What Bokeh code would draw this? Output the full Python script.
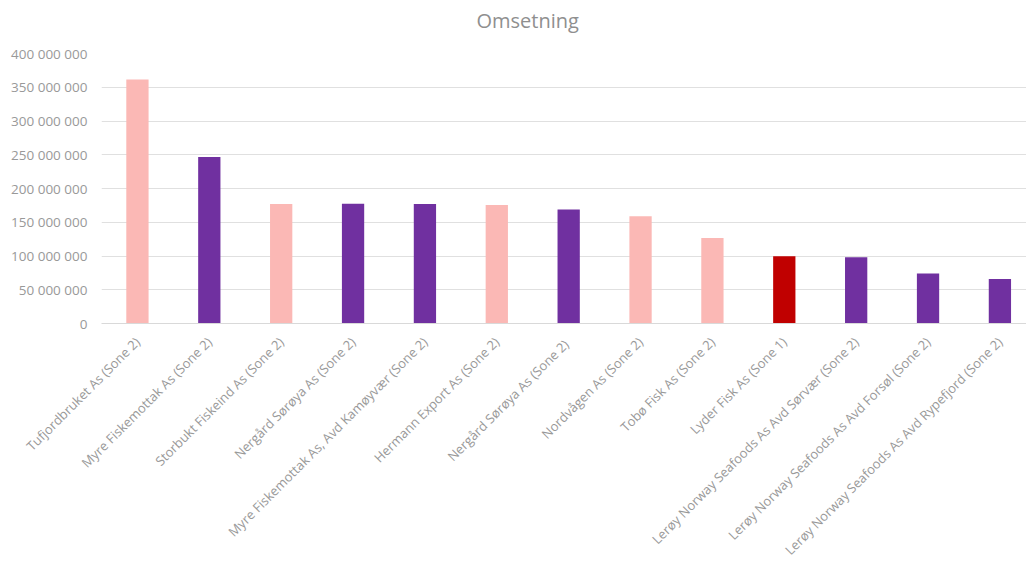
from bokeh.plotting import figure
from bokeh.models import Range1d, FixedTicker, CustomJSTickFormatter, ColumnDataSource, Title
from bokeh.transform import factor_cmap
from bokeh.embed import file_html
from bokeh.resources import INLINE
import math

# --- data ---
title_text = "Omsetning"
companies = [
    "Tufjordbruket As (Sone 2)",
    "Myre Fiskemottak As (Sone 2)",
    "Storbukt Fiskeind As (Sone 2)",
    "Nergård Sørøya As (Sone 2)",
    "Myre Fiskemottak As, Avd Kamøyvær (Sone 2)",
    "Hermann Export As (Sone 2)",
    "Nergård Sørøya As (Sone 2) ",
    "Nordvågen As (Sone 2)",
    "Tobø Fisk As (Sone 2)",
    "Lyder Fisk As (Sone 1)",
    "Lerøy Norway Seafoods As Avd Sørvær (Sone 2)",
    "Lerøy Norway Seafoods As Avd Forsøl (Sone 2)",
    "Lerøy Norway Seafoods As Avd Rypefjord (Sone 2)",
]
omsetning = [361_500_000, 246_800_000, 177_200_000, 177_300_000, 177_200_000,
             175_700_000, 168_900_000, 159_000_000, 126_800_000, 99_700_000,
             98_200_000, 74_000_000, 66_000_000]
gruppe = ["A", "B", "A", "B", "B", "A", "B", "A", "A", "C", "B", "B", "B"]
y_ticks = [0, 50_000_000, 100_000_000, 150_000_000, 200_000_000,
           250_000_000, 300_000_000, 350_000_000, 400_000_000]

group_names = ["A", "B", "C"]
group_colors = ["#FBB8B5", "#7030A0", "#C00000"]

xpos = [i + 0.5 for i in range(len(companies))]
source = ColumnDataSource(dict(x=xpos, top=omsetning, name=companies, grp=gruppe))

p = figure(frame_width=925, frame_height=270, output_backend="svg", toolbar_location=None,
           x_range=Range1d(0, 12.87), y_range=Range1d(0, 400_000_000),
           min_border_left=101, min_border_right=0, min_border_top=53,
           min_border_bottom=0, title=title_text)

p.vbar(x="x", top="top", width=0.31, source=source,
       fill_color=factor_cmap("grp", group_colors, group_names),
       line_color=None)

# spacer between frame and title (small blank title)
p.add_layout(Title(text=" ", text_font_size="8px", standoff=9,
                   text_color="white"), "above")

# title
p.title.align = "left"
p.title.offset = 375
p.title.standoff = 0
p.title.text_font = "Open Sans"
p.title.text_font_size = "20px"
p.title.text_font_style = "normal"
p.title.text_color = "#8f8f8f"

p.outline_line_color = None
p.background_fill_color = "white"
p.border_fill_color = "white"

# y axis
p.yaxis.ticker = FixedTicker(ticks=y_ticks)
p.yaxis.formatter = CustomJSTickFormatter(
    code="return Math.round(tick).toString().replace(/\\B(?=(\\d{3})+(?!\\d))/g, ' ');")
p.yaxis.axis_line_color = None
p.yaxis.major_tick_line_color = None
p.yaxis.minor_tick_line_color = None
p.yaxis.major_tick_out = 0
p.yaxis.major_label_standoff = 14
p.yaxis.major_label_text_font = "Open Sans"
p.yaxis.major_label_text_font_size = "13.5px"
p.yaxis.major_label_text_color = "#999999"

p.ygrid.grid_line_color = "#e0e0e0"
p.ygrid.grid_line_width = 1
p.xgrid.grid_line_color = None

# x axis
p.xaxis.ticker = FixedTicker(ticks=xpos)
p.xaxis.major_label_overrides = {x: n for x, n in zip(xpos, companies)}
p.xaxis.major_label_orientation = math.pi / 4
p.xaxis.axis_line_color = "#d9d9d9"
p.xaxis.major_tick_line_color = None
p.xaxis.minor_tick_line_color = None
p.xaxis.major_tick_out = 0
p.xaxis.major_label_standoff = 16
p.xaxis.major_label_text_font = "Open Sans"
p.xaxis.major_label_text_font_size = "13px"
p.xaxis.major_label_text_color = "#999999"

open("out.html", "w").write(file_html(p, INLINE))
